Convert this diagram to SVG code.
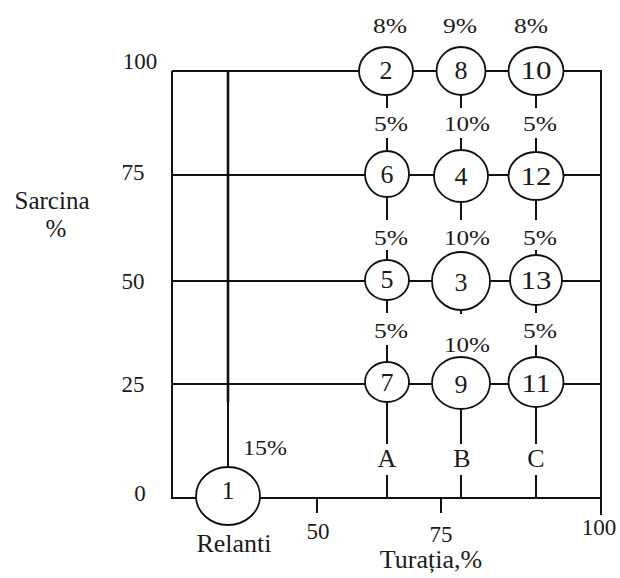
<svg xmlns="http://www.w3.org/2000/svg" width="620" height="578" viewBox="0 0 620 578">
<style>
.ln{stroke:#111;stroke-width:2;fill:none}
.nd{fill:#fff;stroke:#111;stroke-width:1.8}
text{fill:#1a1a1a;text-anchor:middle;font-family:'Liberation Serif','Times New Roman',serif}
.num{font-size:26px}
.pct{font-size:22px}
.ax{font-size:23px}
.lab{font-size:26px}
</style>
<rect width="620" height="578" fill="#fff"/>
<g id="connectors">
<path class="ln" d="M172,71 H601 V515 M172,71 V498 H601 M172,175 H601 M172,281 H601 M172,384 H601"/>
<path class="ln" d="M228,71 V402" style="stroke-width:2.6"/>
<path class="ln" d="M228,402 V467"/>
<path class="ln" d="M317,498 V513 M441,498 V513"/>
<path class="ln" d="M387,95 V108 M387,138 V151 M387,197 V220 M387,250 V260 M387,300 V313 M387,345 V362 M387,402 V444 M387,475 V498"/>
<path class="ln" d="M461,95 V108 M461,138 V150 M461,202 V220 M461,310 V314 M461,409 V444 M461,475 V498"/>
<path class="ln" d="M536,95 V108 M536,138 V152 M536,200 V220 M536,250 V255 M536,305 V313 M536,345 V357 M536,407 V444 M536,475 V498"/>
</g>
<g id="n2"><ellipse class="nd" cx="386" cy="71" rx="27" ry="24"/><text class="num" x="386" y="79">2</text></g>
<g id="n8"><ellipse class="nd" cx="461" cy="71" rx="24.5" ry="24"/><text class="num" x="461" y="79">8</text></g>
<g id="n10"><ellipse class="nd" cx="536" cy="71" rx="27.5" ry="24"/><text class="num" x="536" y="79" textLength="31" lengthAdjust="spacingAndGlyphs">10</text></g>
<g id="n6"><ellipse class="nd" cx="387" cy="174" rx="22" ry="23"/><text class="num" x="387" y="183">6</text></g>
<g id="n4"><ellipse class="nd" cx="461" cy="176" rx="27" ry="26"/><text class="num" x="461" y="185">4</text></g>
<g id="n12"><ellipse class="nd" cx="536" cy="176" rx="27.5" ry="24"/><text class="num" x="536" y="185" textLength="31" lengthAdjust="spacingAndGlyphs">12</text></g>
<g id="n5"><ellipse class="nd" cx="387" cy="280" rx="22" ry="20"/><text class="num" x="387" y="288">5</text></g>
<g id="n3"><ellipse class="nd" cx="461" cy="281" rx="29" ry="29"/><text class="num" x="461" y="291">3</text></g>
<g id="n13"><ellipse class="nd" cx="536" cy="280" rx="26" ry="25"/><text class="num" x="536" y="289" textLength="31" lengthAdjust="spacingAndGlyphs">13</text></g>
<g id="n7"><ellipse class="nd" cx="387" cy="382" rx="22" ry="20"/><text class="num" x="387" y="391">7</text></g>
<g id="n9"><ellipse class="nd" cx="461" cy="383" rx="29" ry="26"/><text class="num" x="461" y="393">9</text></g>
<g id="n11"><ellipse class="nd" cx="536" cy="382" rx="27.5" ry="25"/><text class="num" x="536" y="392" textLength="29" lengthAdjust="spacingAndGlyphs">11</text></g>
<g id="n1"><ellipse class="nd" cx="228" cy="496" rx="32" ry="29"/><text class="num" x="228" y="499">1</text></g>
<g id="labels">
<text class="pct" x="390" y="33" textLength="34" lengthAdjust="spacingAndGlyphs">8%</text>
<text class="pct" x="460" y="33" textLength="34" lengthAdjust="spacingAndGlyphs">9%</text>
<text class="pct" x="531" y="33" textLength="34" lengthAdjust="spacingAndGlyphs">8%</text>
<text class="pct" x="391" y="131" textLength="34" lengthAdjust="spacingAndGlyphs">5%</text>
<text class="pct" x="467" y="131" textLength="46" lengthAdjust="spacingAndGlyphs">10%</text>
<text class="pct" x="540" y="131" textLength="34" lengthAdjust="spacingAndGlyphs">5%</text>
<text class="pct" x="391" y="245" textLength="34" lengthAdjust="spacingAndGlyphs">5%</text>
<text class="pct" x="467" y="245" textLength="46" lengthAdjust="spacingAndGlyphs">10%</text>
<text class="pct" x="540" y="245" textLength="34" lengthAdjust="spacingAndGlyphs">5%</text>
<text class="pct" x="391" y="338" textLength="34" lengthAdjust="spacingAndGlyphs">5%</text>
<text class="pct" x="467" y="352" textLength="46" lengthAdjust="spacingAndGlyphs">10%</text>
<text class="pct" x="540" y="338" textLength="34" lengthAdjust="spacingAndGlyphs">5%</text>
<text class="pct" x="265" y="455" textLength="44" lengthAdjust="spacingAndGlyphs">15%</text>
<text class="num" x="387" y="467">A</text>
<text class="num" x="462" y="467">B</text>
<text class="num" x="536" y="467">C</text>
<text class="ax" x="140" y="69">100</text>
<text class="ax" x="133" y="180">75</text>
<text class="ax" x="133" y="289">50</text>
<text class="ax" x="133" y="392">25</text>
<text class="ax" x="140" y="501">0</text>
<text class="ax" x="318" y="539">50</text>
<text class="ax" x="441" y="542">75</text>
<text class="ax" x="599" y="535">100</text>
<text class="lab" x="234" y="552">Relanti</text>
<text class="lab" x="431" y="568">Turația,%</text>
<text class="lab" x="52" y="209" style="font-size:25px">Sarcina</text>
<text class="lab" x="56" y="237" style="font-size:25px">%</text>
</g>
</svg>
